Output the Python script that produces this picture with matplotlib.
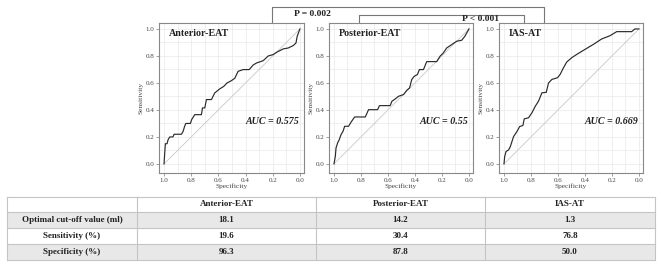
import matplotlib.pyplot as plt
from matplotlib.patches import Rectangle
from matplotlib.ticker import MultipleLocator

# ROC curves: specificity (x) and sensitivity (y)
ant_spec = [1.0, 0.995, 0.99, 0.978, 0.97, 0.958, 0.934, 0.926, 0.872, 0.86, 0.848, 0.84,
            0.806, 0.796, 0.774, 0.725, 0.717, 0.70, 0.688, 0.651, 0.627, 0.59, 0.56, 0.536,
            0.504, 0.479, 0.455, 0.418, 0.373, 0.344, 0.319, 0.27, 0.233, 0.197, 0.172,
            0.123, 0.086, 0.049, 0.029, 0.02, 0.0]
ant_sens = [0.0, 0.08, 0.15, 0.15, 0.18, 0.2, 0.2, 0.22, 0.22, 0.24, 0.28, 0.30,
            0.30, 0.33, 0.365, 0.365, 0.415, 0.415, 0.477, 0.477, 0.526, 0.556, 0.575, 0.6,
            0.617, 0.635, 0.686, 0.699, 0.699, 0.733, 0.748, 0.765, 0.8, 0.81, 0.827,
            0.852, 0.859, 0.877, 0.896, 0.946, 1.0]

post_spec = [1.0, 0.99, 0.985, 0.973, 0.961, 0.948, 0.933, 0.921, 0.892, 0.874, 0.847, 0.768,
             0.744, 0.677, 0.663, 0.584, 0.571, 0.547, 0.522, 0.485, 0.46, 0.44, 0.424, 0.406,
             0.382, 0.367, 0.337, 0.313, 0.239, 0.214, 0.19, 0.165, 0.128, 0.091, 0.054,
             0.03, 0.0]
post_sens = [0.0, 0.057, 0.118, 0.156, 0.18, 0.217, 0.242, 0.279, 0.279, 0.309, 0.348, 0.348,
             0.402, 0.402, 0.432, 0.432, 0.464, 0.481, 0.501, 0.514, 0.546, 0.563, 0.625, 0.649,
             0.662, 0.699, 0.699, 0.758, 0.758, 0.798, 0.822, 0.859, 0.884, 0.909, 0.916,
             0.946, 1.0]

ias_spec = [1.0, 0.995, 0.985, 0.966, 0.953, 0.941, 0.929, 0.904, 0.884, 0.86, 0.85, 0.818,
            0.793, 0.768, 0.744, 0.719, 0.687, 0.67, 0.645, 0.603, 0.584, 0.559, 0.535, 0.498,
            0.46, 0.399, 0.337, 0.276, 0.214, 0.165, 0.054, 0.03, 0.0]
ias_sens = [0.0, 0.054, 0.092, 0.104, 0.129, 0.166, 0.203, 0.24, 0.277, 0.285, 0.334, 0.342,
            0.379, 0.428, 0.465, 0.527, 0.53, 0.6, 0.626, 0.639, 0.663, 0.713, 0.755, 0.787,
            0.812, 0.849, 0.886, 0.926, 0.95, 0.98, 0.98, 1.0, 1.0]

panel_names = ["Anterior-EAT", "Posterior-EAT", "IAS-AT"]
auc_labels = ["AUC = 0.575", "AUC = 0.55", "AUC = 0.669"]
p_labels = ["P = 0.002", "P < 0.001"]

row_labels = ["Optimal cut-off value (ml)", "Sensitivity (%)", "Specificity (%)"]
table_values = [["18.1", "14.2", "1.3"],
                ["19.6", "30.4", "76.8"],
                ["96.3", "87.8", "50.0"]]

W, H = 661, 265
SERIF = ["Liberation Serif", "DejaVu Serif"]

fig = plt.figure(figsize=(W / 100, H / 100), dpi=100)

# overlay axes in pixel coordinates for brackets and the table
ov = fig.add_axes([0, 0, 1, 1], zorder=0)
ov.set_xlim(0, W)
ov.set_ylim(H, 0)
ov.axis("off")


def px_axes(left, top, right, bottom):
    return fig.add_axes([left / W, 1 - bottom / H, (right - left) / W, (bottom - top) / H], zorder=2)


curves = [(ant_spec, ant_sens), (post_spec, post_sens), (ias_spec, ias_sens)]
boxes = [(159, 23, 304, 173), (329, 23, 473, 173), (499, 23, 643, 173)]

for (spec, sens), box, name, auc in zip(curves, boxes, panel_names, auc_labels):
    ax = px_axes(*box)
    ax.xaxis.set_major_locator(MultipleLocator(0.2))
    ax.yaxis.set_major_locator(MultipleLocator(0.2))
    ax.xaxis.set_minor_locator(MultipleLocator(0.1))
    ax.yaxis.set_minor_locator(MultipleLocator(0.1))
    ax.grid(True, which="both", color="#ececec", lw=0.6)
    ax.set_axisbelow(True)
    ax.tick_params(which="minor", length=0)
    ax.tick_params(which="major", length=2, width=0.5, color="#777777", pad=1.5,
                   labelsize=5, labelcolor="#444444")
    ticks = [0.0, 0.2, 0.4, 0.6, 0.8, 1.0]
    ax.set_xticks(ticks, [f"{v:.1f}" for v in ticks], family=SERIF)
    ax.set_yticks(ticks, [f"{v:.1f}" for v in ticks], family=SERIF)
    ax.set_xlim(1.037, -0.03)
    ax.set_ylim(-0.067, 1.044)
    for sp in ax.spines.values():
        sp.set_color("#888888")
        sp.set_linewidth(0.8)
    ax.plot([1, 0], [0, 1], color="#c8c8c8", lw=0.6)
    ax.plot(spec, sens, color="#2a2a2a", lw=0.85)
    ax.set_xlabel("Specificity", family=SERIF, fontsize=5.3, color="#444444", labelpad=0.5)
    ax.set_ylabel("Sensitivity", family=SERIF, fontsize=5.3, color="#444444", labelpad=1)
    ax.text(0.07, 0.93, name, transform=ax.transAxes, family=SERIF, fontsize=7.2,
            fontweight="bold", ha="left", va="center", color="#222222")
    ax.text(0.97, 0.34, auc, transform=ax.transAxes, family=SERIF, fontsize=7.2,
            fontweight="bold", style="italic", ha="right", va="center", color="#222222")

# significance brackets
bc = "#777777"
ov.plot([272, 272, 544, 544], [23, 7, 7, 23], color=bc, lw=0.8)
ov.plot([359, 359, 524, 524], [23, 15, 15, 23], color=bc, lw=0.8)
ov.text(312, 14.5, p_labels[0], family=SERIF, fontsize=6.8, fontweight="bold",
        ha="center", va="center", color="#222222")
ov.text(480, 19, p_labels[1], family=SERIF, fontsize=6.8, fontweight="bold",
        ha="center", va="center", color="#222222")

# table
col_edges = [7, 137, 316, 485, 655]
row_edges = [197, 212, 228, 244, 260]
fills = ["white", "#e8e8e8", "white", "#e8e8e8"]
lc = "#c4c4c4"
for i, fc in enumerate(fills):
    ov.add_patch(Rectangle((col_edges[0], row_edges[i]), col_edges[-1] - col_edges[0],
                           row_edges[i + 1] - row_edges[i], facecolor=fc, edgecolor="none"))
for y in row_edges:
    ov.plot([col_edges[0], col_edges[-1]], [y, y], color=lc, lw=0.8)
for x in col_edges:
    ov.plot([x, x], [row_edges[0], row_edges[-1]], color=lc, lw=0.8)

cell_kw = dict(family=SERIF, fontsize=6.5, fontweight="bold", ha="center", va="center",
               color="#222222")
for j, name in enumerate(panel_names):
    ov.text((col_edges[j + 1] + col_edges[j + 2]) / 2, (row_edges[0] + row_edges[1]) / 2,
            name, **cell_kw)
for i, lab in enumerate(row_labels):
    yc = (row_edges[i + 1] + row_edges[i + 2]) / 2
    ov.text((col_edges[0] + col_edges[1]) / 2, yc, lab, **cell_kw)
    for j, val in enumerate(table_values[i]):
        ov.text((col_edges[j + 1] + col_edges[j + 2]) / 2, yc, val, **cell_kw)

fig.savefig("out.png", dpi=100)
